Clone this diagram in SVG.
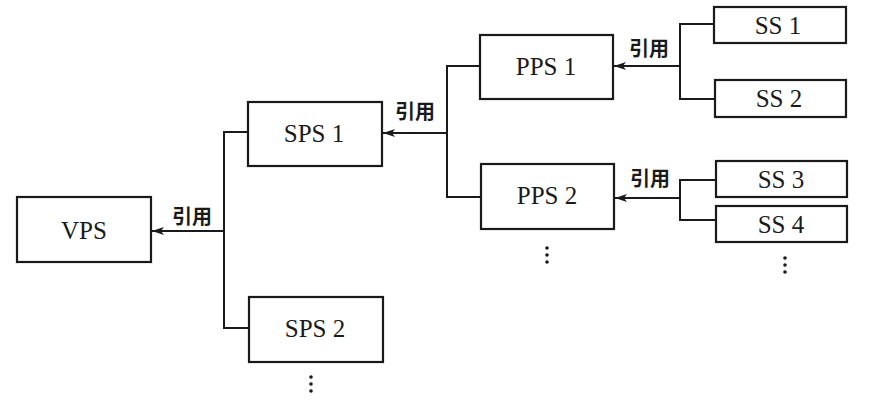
<svg xmlns="http://www.w3.org/2000/svg" width="896" height="417" viewBox="0 0 896 417">
<style>
.box{fill:#fff;stroke:#1a1a1a;stroke-width:2.2}
.t{font-family:"Liberation Serif","Times New Roman",serif;font-size:25px;fill:#1a1a1a;text-anchor:middle}
.lbl{font-family:"Noto Sans CJK SC","Noto Sans",sans-serif;font-size:20px;font-weight:bold;fill:#1a1a1a}
.ln{fill:none;stroke:#1a1a1a;stroke-width:2}
.dot{fill:#1a1a1a}
</style>
<defs>
<marker id="arr" viewBox="0 0 12 10" refX="12" refY="5" markerWidth="12" markerHeight="10" markerUnits="userSpaceOnUse" orient="auto">
<path d="M0,1 L12,5 L0,9 L3,5 Z" fill="#1a1a1a"/>
</marker>
</defs>
<rect width="896" height="417" fill="#fff"/>
<g id="VPS"><rect class="box" x="17" y="197" width="134" height="65"/><text class="t" x="84" y="239">VPS</text></g>
<g id="SPS1"><rect class="box" x="248" y="102" width="134" height="64"/><text class="t" x="314" y="142">SPS 1</text></g>
<g id="SPS2"><rect class="box" x="249" y="297" width="134" height="65"/><text class="t" x="315" y="337">SPS 2</text></g>
<g id="PPS1"><rect class="box" x="480" y="35" width="133" height="64"/><text class="t" x="546" y="75">PPS 1</text></g>
<g id="PPS2"><rect class="box" x="481" y="164" width="133" height="65"/><text class="t" x="547" y="204">PPS 2</text></g>
<g id="SS1"><rect class="box" x="714" y="7" width="132" height="36"/><text class="t" x="778" y="34">SS 1</text></g>
<g id="SS2"><rect class="box" x="715" y="80" width="131" height="37"/><text class="t" x="779" y="107">SS 2</text></g>
<g id="SS3"><rect class="box" x="716" y="161" width="131" height="36"/><text class="t" x="781" y="188">SS 3</text></g>
<g id="SS4"><rect class="box" x="716" y="206" width="131" height="36"/><text class="t" x="781" y="233">SS 4</text></g>
<g id="connectors">
<path class="ln" d="M248,132 H224 V328 H249"/>
<path class="ln" d="M224,231 H152" marker-end="url(#arr)"/>
<path class="ln" d="M480,66 H447 V197 H481"/>
<path class="ln" d="M447,133 H383" marker-end="url(#arr)"/>
<path class="ln" d="M714,24 H680 V99 H715"/>
<path class="ln" d="M680,66 H614" marker-end="url(#arr)"/>
<path class="ln" d="M716,180 H680 V220 H716"/>
<path class="ln" d="M680,198 H615" marker-end="url(#arr)"/>
<text class="lbl" x="172" y="224">引用</text>
<text class="lbl" x="395" y="119">引用</text>
<text class="lbl" x="629" y="56">引用</text>
<text class="lbl" x="630" y="186">引用</text>
</g>
<g id="ellipses">
<circle class="dot" cx="311" cy="377" r="1.8"/><circle class="dot" cx="311" cy="384" r="1.8"/><circle class="dot" cx="311" cy="391" r="1.8"/>
<circle class="dot" cx="547" cy="248" r="1.8"/><circle class="dot" cx="547" cy="255" r="1.8"/><circle class="dot" cx="547" cy="262" r="1.8"/>
<circle class="dot" cx="785" cy="258" r="1.8"/><circle class="dot" cx="785" cy="265" r="1.8"/><circle class="dot" cx="785" cy="272" r="1.8"/>
</g>
</svg>
